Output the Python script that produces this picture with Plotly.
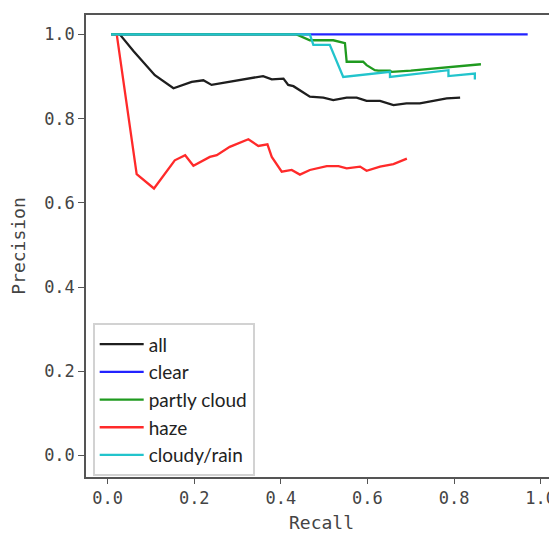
import plotly.graph_objects as go

# ---- data ----
all_recall = [0.028, 0.06, 0.109, 0.152, 0.194, 0.221, 0.240, 0.279, 0.325, 0.359, 0.379, 0.406,
              0.417, 0.429, 0.467, 0.498, 0.521, 0.552, 0.575, 0.598, 0.629, 0.660, 0.690,
              0.721, 0.752, 0.783, 0.814]
all_precision = [1.0, 0.96, 0.903, 0.872, 0.887, 0.891, 0.880, 0.887, 0.895, 0.901, 0.893, 0.895,
                 0.880, 0.877, 0.852, 0.850, 0.844, 0.850, 0.850, 0.842, 0.842, 0.832, 0.836,
                 0.836, 0.842, 0.848, 0.850]

clear_recall = [0.008, 0.97]
clear_precision = [1.0, 1.0]

partly_recall = [0.008, 0.436, 0.467, 0.521, 0.548, 0.552, 0.590, 0.598, 0.617, 0.625, 0.652,
                 0.656, 0.70, 0.76, 0.81, 0.862]
partly_precision = [1.0, 1.0, 0.986, 0.986, 0.979, 0.935, 0.935, 0.927, 0.915, 0.914, 0.914,
                    0.911, 0.914, 0.919, 0.924, 0.929]

haze_recall = [0.021, 0.067, 0.107, 0.155, 0.179, 0.198, 0.236, 0.252, 0.282, 0.325, 0.348,
               0.369, 0.379, 0.394, 0.402, 0.425, 0.444, 0.467, 0.506, 0.533, 0.552, 0.583,
               0.598, 0.629, 0.660, 0.691]
haze_precision = [1.0, 0.668, 0.634, 0.701, 0.713, 0.688, 0.709, 0.713, 0.733, 0.751, 0.735,
                  0.739, 0.709, 0.686, 0.674, 0.678, 0.667, 0.678, 0.687, 0.687, 0.682, 0.686,
                  0.676, 0.686, 0.692, 0.705]

cloudy_recall = [0.008, 0.467, 0.475, 0.513, 0.544, 0.652, 0.652, 0.787, 0.787, 0.848, 0.848]
cloudy_precision = [1.0, 1.0, 0.975, 0.975, 0.899, 0.911, 0.899, 0.915, 0.901, 0.907, 0.893]

series_names = ["all", "clear", "partly cloud", "haze", "cloudy/rain"]
series_colors = ["#1e1e1e", "#2222ff", "#1f9a1f", "#ff2a2a", "#22c4cc"]
series_x = [all_recall, clear_recall, partly_recall, haze_recall, cloudy_recall]
series_y = [all_precision, clear_precision, partly_precision, haze_precision, cloudy_precision]

x_ticks = [0.0, 0.2, 0.4, 0.6, 0.8, 1.0]
y_ticks = [0.0, 0.2, 0.4, 0.6, 0.8, 1.0]

fig = go.Figure()
for name, color, xs, ys in zip(series_names, series_colors, series_x, series_y):
    fig.add_trace(go.Scatter(x=xs, y=ys, mode="lines", name=name, legendgroup=name,
                             line=dict(color=color, width=2.3)))

mono = "DejaVu Sans Mono"
# the page body has an 8px margin, so the figure is 8px smaller and margins shifted
fig.update_layout(
    width=549, height=525,
    margin=dict(l=78, r=0, t=7, b=56, autoexpand=False),
    paper_bgcolor="white", plot_bgcolor="white",
    showlegend=True,
    legend=dict(x=0.0142, y=0.3327, xanchor="left", yanchor="top",
                bordercolor="#d2d2d2", borderwidth=2, bgcolor="white",
                font=dict(family="Lato", size=19, color="#222222"),
                tracegroupgap=0, itemwidth=44),
    xaxis=dict(range=[-0.05, 1.0377], tickvals=x_ticks, ticktext=[f"{v:.1f}" for v in x_ticks],
               automargin=False,
               showgrid=False, zeroline=False, showline=True, linecolor="#555555", linewidth=1.5,
               mirror=True, ticks="outside", ticklen=5, tickcolor="#555555",
               tickfont=dict(family=mono, size=17, color="#444444"),
               title=dict(text="Recall", font=dict(family=mono, size=18, color="#444444"))),
    yaxis=dict(range=[-0.051, 1.046], tickvals=y_ticks, ticktext=[f"{v:.1f}" for v in y_ticks],
               automargin=False,
               showgrid=False, zeroline=False, showline=True, linecolor="#555555", linewidth=1.5,
               mirror=False, ticks="outside", ticklen=6, tickcolor="#555555",
               tickfont=dict(family=mono, size=17, color="#444444"),
               title=dict(text="Precision", font=dict(family=mono, size=18, color="#444444"))),
)

fig.write_html("out.html")
